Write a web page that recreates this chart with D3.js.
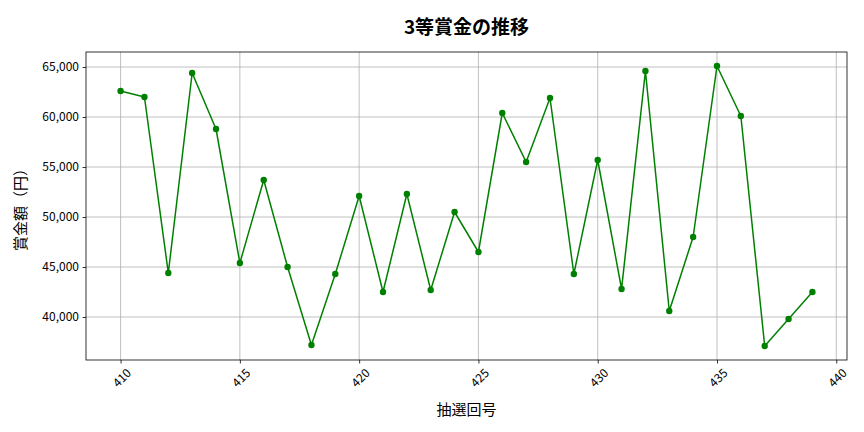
<!DOCTYPE html>
<html>
<head>
<meta charset="utf-8">
<script src="https://cdn.jsdelivr.net/npm/d3@7"></script>
<style>
  body { margin: 0; background: #fff; }
  text { font-family: "Noto Sans CJK JP", "Noto Sans", sans-serif; }
</style>
</head>
<body>
<div class="chart"></div>
<script>
// 抽選回 and 3等 prize amounts
const draws = [410, 411, 412, 413, 414, 415, 416, 417, 418, 419,
               420, 421, 422, 423, 424, 425, 426, 427, 428, 429,
               430, 431, 432, 433, 434, 435, 436, 437, 438, 439];
const prize = [62600, 62000, 44400, 64400, 58800, 45400, 53700, 45000, 37200, 44300,
               52100, 42500, 52300, 42700, 50500, 46500, 60400, 55500, 61900, 44300,
               55700, 42800, 64600, 40600, 48000, 65100, 60100, 37100, 39800, 42500];
const xTicks = [410, 415, 420, 425, 430, 435, 440];
const yTicks = [40000, 45000, 50000, 55000, 60000, 65000];

const title = "3等賞金の推移";
const xLabel = "抽選回号";
const yLabel = "賞金額（円）";

const width = 864, height = 432;
const margin = ({top: 52, right: 17, bottom: 72, left: 86});

const svg = d3.select(".chart").append("svg")
    .attr("width", width)
    .attr("height", height)
    .attr("viewBox", [0, 0, width, height]);

// matplotlib-style 5% padding around the data
const xExt = d3.extent(draws), yExt = d3.extent(prize);
const xPad = (xExt[1] - xExt[0]) * 0.05, yPad = (yExt[1] - yExt[0]) * 0.05;

const x = d3.scaleLinear()
    .domain([xExt[0] - xPad, xExt[1] + xPad])
    .range([margin.left, width - margin.right]);
const y = d3.scaleLinear()
    .domain([yExt[0] - yPad, yExt[1] + yPad])
    .range([height - margin.bottom, margin.top]);

const plotW = width - margin.left - margin.right;
const plotH = height - margin.top - margin.bottom;

// grid
svg.append("g")
    .selectAll("line")
    .data(xTicks)
    .join("line")
    .attr("x1", d => x(d)).attr("x2", d => x(d))
    .attr("y1", margin.top).attr("y2", height - margin.bottom)
    .attr("stroke", "#b0b0b0").attr("stroke-width", 0.8);
svg.append("g")
    .selectAll("line")
    .data(yTicks)
    .join("line")
    .attr("y1", d => y(d)).attr("y2", d => y(d))
    .attr("x1", margin.left).attr("x2", width - margin.right)
    .attr("stroke", "#b0b0b0").attr("stroke-width", 0.8);

// axes
const xAxis = svg.append("g")
    .attr("transform", `translate(0,${height - margin.bottom})`)
    .call(d3.axisBottom(x).tickValues(xTicks).tickSize(3.5).tickPadding(3.5).tickSizeOuter(0))
    .call(g => g.select(".domain").remove())
    .call(g => g.selectAll(".tick line").attr("stroke", "#000").attr("stroke-width", 0.8));
xAxis.selectAll(".tick text")
    .attr("font-size", 12)
    .attr("fill", "#000")
    .attr("text-anchor", "middle")
    .attr("dominant-baseline", "central")
    .attr("y", 0).attr("dy", null)
    .attr("transform", "translate(0,17) rotate(-45)");

svg.append("g")
    .attr("transform", `translate(${margin.left},0)`)
    .call(d3.axisLeft(y).tickValues(yTicks).tickFormat(d3.format(",")).tickSize(3.5).tickPadding(3.5).tickSizeOuter(0))
    .call(g => g.select(".domain").remove())
    .call(g => g.selectAll(".tick line").attr("stroke", "#000").attr("stroke-width", 0.8))
    .call(g => g.selectAll(".tick text").attr("font-size", 12).attr("fill", "#000"));

// frame
svg.append("rect")
    .attr("x", margin.left).attr("y", margin.top)
    .attr("width", plotW).attr("height", plotH)
    .attr("fill", "none").attr("stroke", "#000").attr("stroke-width", 0.8);

// line and markers
const line = d3.line()
    .x((d, i) => x(draws[i]))
    .y(d => y(d));

svg.append("path")
    .attr("fill", "none")
    .attr("stroke", "green")
    .attr("stroke-width", 1.5)
    .attr("stroke-linejoin", "round")
    .attr("d", line(prize));

svg.append("g")
    .attr("fill", "green")
    .selectAll("circle")
    .data(prize)
    .join("circle")
    .attr("cx", (d, i) => x(draws[i]))
    .attr("cy", d => y(d))
    .attr("r", 3.2);

// labels
svg.append("text")
    .attr("x", margin.left + plotW / 2).attr("y", 25)
    .attr("text-anchor", "middle").attr("dominant-baseline", "central")
    .attr("font-size", 19).attr("font-weight", "bold")
    .text(title);

svg.append("text")
    .attr("x", margin.left + plotW / 2).attr("y", 408)
    .attr("text-anchor", "middle").attr("dominant-baseline", "central")
    .attr("font-size", 15)
    .text(xLabel);

svg.append("text")
    .attr("transform", `translate(19,${margin.top + plotH / 2}) rotate(-90)`)
    .attr("text-anchor", "middle").attr("dominant-baseline", "central")
    .attr("font-size", 15)
    .text(yLabel);
</script>
</body>
</html>
